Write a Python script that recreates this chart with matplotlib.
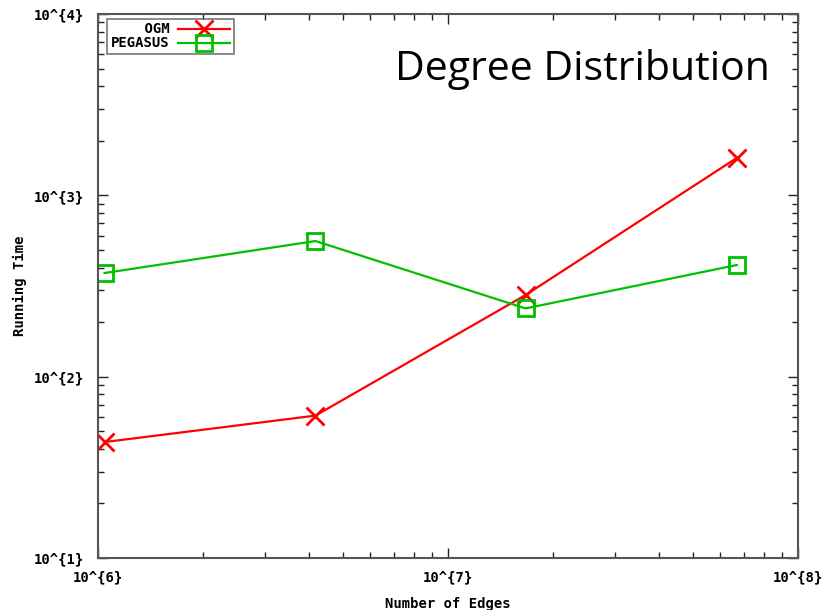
import numpy as np
import matplotlib.pyplot as plt
from matplotlib.ticker import FuncFormatter, LogLocator, NullFormatter

# graph sizes (edges) and running times
edges = [1.044e6, 4.18e6, 1.665e7, 6.69e7]
ogm_time = [43.6, 61.0, 282.0, 1610.0]
pegasus_time = [373.0, 560.0, 238.0, 413.0]

MONO = "DejaVu Sans Mono"
AXIS_GRAY = "#555555"
FS = 10

fig = plt.figure(figsize=(8.25, 6.1), dpi=100)
ax = fig.add_axes([0.1188, 0.0852, 0.8485, 0.8918])

ax.plot(edges, ogm_time, color="#ff0000", linewidth=1.6, marker="x",
        markersize=13, markeredgewidth=2.0, label="    OGM")
ax.plot(edges, pegasus_time, color="#00c000", linewidth=1.6, marker="s",
        markersize=11.5, markeredgewidth=2.0, fillstyle="none", label="PEGASUS")

ax.set_xscale("log")
ax.set_yscale("log")
ax.set_xlim(1e6, 1e8)
ax.set_ylim(1e1, 1e4)

fmt = FuncFormatter(lambda v, pos: "10^{%d}" % round(np.log10(v)))
for axis in (ax.xaxis, ax.yaxis):
    axis.set_major_locator(LogLocator(base=10, numticks=10))
    axis.set_minor_locator(LogLocator(base=10, subs=np.arange(2, 10), numticks=10))
    axis.set_major_formatter(fmt)
    axis.set_minor_formatter(NullFormatter())

ax.tick_params(which="both", direction="in", top=True, right=True,
               color="#222222", width=1.0)
ax.tick_params(which="major", length=7)
ax.tick_params(which="minor", length=4)
ax.tick_params(axis="y", pad=10)
ax.tick_params(axis="x", pad=9)
for lbl in ax.get_xticklabels() + ax.get_yticklabels():
    lbl.set_fontfamily(MONO)
    lbl.set_fontweight("bold")
    lbl.set_fontsize(FS)

for sp in ax.spines.values():
    sp.set_color(AXIS_GRAY)
    sp.set_linewidth(1.5)

ax.set_xlabel("Number of Edges", fontfamily=MONO, fontweight="bold",
              fontsize=FS, labelpad=9)
ax.set_ylabel("Running Time", fontfamily=MONO, fontweight="bold",
              fontsize=FS, labelpad=5)

leg = ax.legend(loc="upper left", bbox_to_anchor=(0.013, 0.991),
                markerfirst=False, fancybox=False, borderpad=0.25,
                labelspacing=0.0, handlelength=3.8, handletextpad=0.6,
                borderaxespad=0.0,
                prop={"family": MONO, "weight": "bold", "size": FS})
leg.get_frame().set_edgecolor(AXIS_GRAY)
leg.get_frame().set_linewidth(1.2)

ax.text(0.96, 0.879, "Degree Distribution", transform=ax.transAxes,
        ha="right", va="baseline", fontfamily="Open Sans", fontsize=29.5)

fig.savefig("out.png", dpi=100)
